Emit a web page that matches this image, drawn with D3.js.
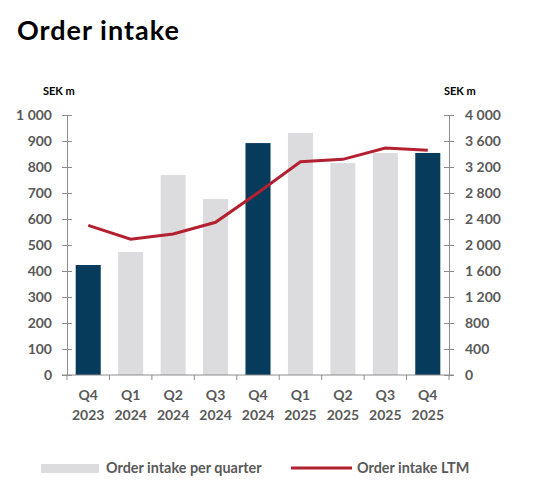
<!DOCTYPE html>
<html>
<head>
<meta charset="utf-8">
<script src="https://cdn.jsdelivr.net/npm/d3@7"></script>
<style>
  body { margin: 0; background: #fff; }
  text { font-family: Lato, "Open Sans", sans-serif; font-weight: bold; }
</style>
</head>
<body>
<div id="chart"></div>
<script>
// data
// -----------------------------------------------
const quarters = ['Q4', 'Q1', 'Q2', 'Q3', 'Q4', 'Q1', 'Q2', 'Q3', 'Q4'];
const years = ['2023', '2024', '2024', '2024', '2024', '2025', '2025', '2025', '2025'];
const orderIntake = [423, 473, 769, 677, 892, 931, 815, 854, 854];
const orderIntakeLTM = [2303, 2088, 2169, 2349, 2805, 3282, 3318, 3492, 3456];
const leftTicks = [0, 100, 200, 300, 400, 500, 600, 700, 800, 900, 1000];
const rightTicks = [0, 400, 800, 1200, 1600, 2000, 2400, 2800, 3200, 3600, 4000];

// -----------------------------------------------
let width = 542,
  height = 492;
let margin = { top: 115, right: 93, bottom: 117, left: 67 };

let navy = '#063b5c',
  grey = '#dcdcde',
  red = '#b3202f',
  axisGrey = '#8c8c8c',
  labelGrey = '#595959';

let fmt = (d) => d3.format(',')(d).replace(/,/g, ' ');

const svg = d3
  .select('#chart')
  .append('svg')
  .attr('width', width)
  .attr('height', height);

let x = d3
  .scaleBand()
  .domain(d3.range(quarters.length))
  .range([margin.left, width - margin.right])
  .paddingInner(0.41)
  .paddingOuter(0.205);

let y = d3
  .scaleLinear()
  .domain([0, 1000])
  .range([height - margin.bottom, margin.top]);

let y2 = d3
  .scaleLinear()
  .domain([0, 4000])
  .range([height - margin.bottom, margin.top]);

// title
svg
  .append('text')
  .attr('x', 17)
  .attr('y', 40)
  .attr('font-size', 27)
  .attr('letter-spacing', 1)
  .attr('fill', '#000')
  .text('Order intake');

// units
svg.append('text').attr('x', 43).attr('y', 95).attr('font-size', 11).attr('fill', '#000').text('SEK m');
svg.append('text').attr('x', 444).attr('y', 95).attr('font-size', 11).attr('fill', '#000').text('SEK m');

// bars
svg
  .append('g')
  .selectAll('rect')
  .data(orderIntake)
  .join('rect')
  .attr('x', (d, i) => x(i))
  .attr('y', (d) => y(d))
  .attr('width', x.bandwidth())
  .attr('height', (d) => y(0) - y(d))
  .attr('fill', (d, i) => (quarters[i] === 'Q4' ? navy : grey));

// line
let line = d3
  .line()
  .x((d, i) => x(i) + x.bandwidth() / 2)
  .y((d) => y2(d));

svg
  .append('path')
  .datum(orderIntakeLTM)
  .attr('fill', 'none')
  .attr('stroke', red)
  .attr('stroke-width', 3)
  .attr('d', line);

// axes
let styleAxis = (g) => {
  g.select('.domain').attr('stroke', axisGrey);
  g.selectAll('.tick line').attr('stroke', axisGrey);
  g.selectAll('.tick text')
    .attr('fill', labelGrey)
    .attr('font-size', 14)
    .attr('font-family', 'Lato, "Open Sans", sans-serif')
    .attr('font-weight', 'bold');
};

svg
  .append('g')
  .attr('transform', `translate(${margin.left},0)`)
  .call(d3.axisLeft(y).tickValues(leftTicks).tickFormat(fmt).tickSizeOuter(0).tickSizeInner(5))
  .call(styleAxis)
  .call((g) => g.selectAll('.tick line').attr('x1', 5).attr('x2', -5))
  .call((g) => g.selectAll('.tick text').attr('x', -15));

svg
  .append('g')
  .attr('transform', `translate(${width - margin.right},0)`)
  .call(d3.axisRight(y2).tickValues(rightTicks).tickFormat(fmt).tickSizeOuter(0).tickSizeInner(5))
  .call(styleAxis)
  .call((g) => g.selectAll('.tick line').attr('x1', -5).attr('x2', 5))
  .call((g) => g.selectAll('.tick text').attr('x', 16));

// bottom axis: ticks at band boundaries
let xBottom = svg.append('g').attr('transform', `translate(0,${height - margin.bottom})`);
xBottom
  .append('line')
  .attr('x1', margin.left - 5)
  .attr('x2', width - margin.right + 5)
  .attr('stroke', axisGrey);
xBottom
  .selectAll('.sep')
  .data(d3.range(quarters.length + 1))
  .join('line')
  .attr('class', 'sep')
  .attr('x1', (i) => margin.left + i * x.step())
  .attr('x2', (i) => margin.left + i * x.step())
  .attr('y1', 0)
  .attr('y2', 5)
  .attr('stroke', axisGrey);

let xLabels = xBottom
  .selectAll('.lbl')
  .data(quarters)
  .join('text')
  .attr('class', 'lbl')
  .attr('text-anchor', 'middle')
  .attr('fill', labelGrey)
  .attr('font-size', 14)
  .attr('transform', (d, i) => `translate(${x(i) + x.bandwidth() / 2},0)`);
xLabels.append('tspan').attr('x', 0).attr('y', 25).text((d) => d);
xLabels.append('tspan').attr('x', 0).attr('y', 45).text((d, i) => years[i]);

// legend
let legend = svg.append('g');
legend.append('rect').attr('x', 41).attr('y', 464).attr('width', 58).attr('height', 9).attr('fill', grey);
legend.append('text').attr('x', 106).attr('y', 473).attr('font-size', 14.4).attr('fill', labelGrey).text('Order intake per quarter');
legend.append('line').attr('x1', 291).attr('x2', 352).attr('y1', 468).attr('y2', 468).attr('stroke', red).attr('stroke-width', 3);
legend.append('text').attr('x', 357).attr('y', 473).attr('font-size', 14.4).attr('fill', labelGrey).text('Order intake LTM');
</script>
</body>
</html>
